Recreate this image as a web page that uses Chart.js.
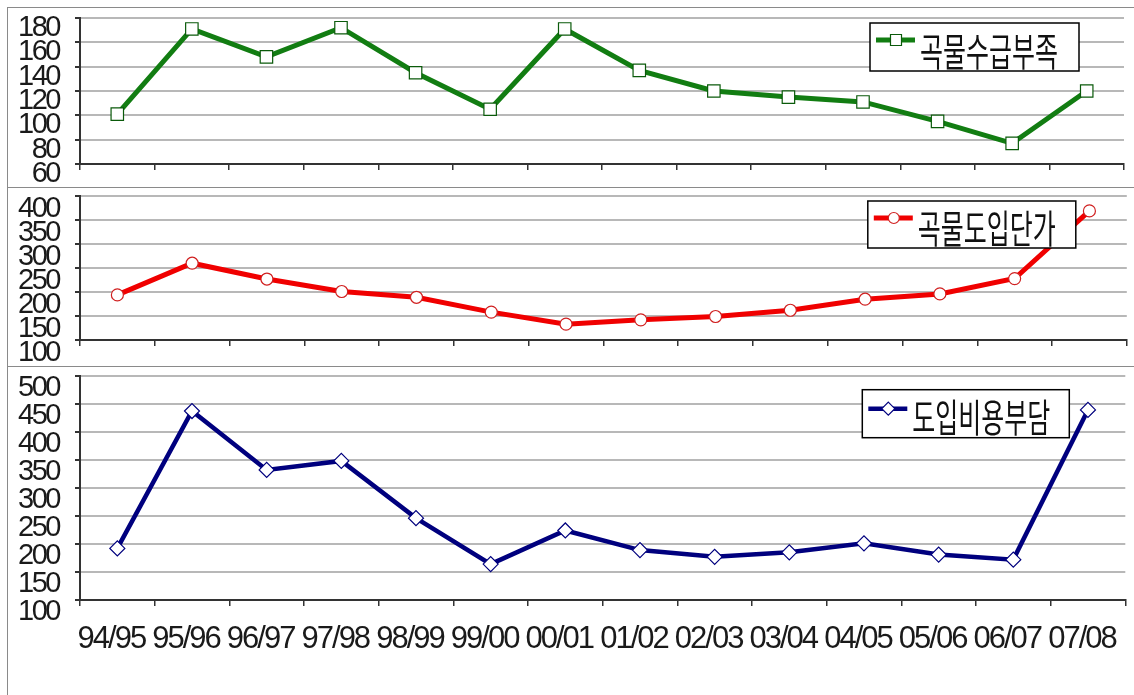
<!DOCTYPE html>
<html>
<head>
<meta charset="utf-8">
<script src="https://cdn.jsdelivr.net/npm/chart.js@4.4.1/dist/chart.umd.min.js"></script>
<style>
  html, body { margin:0; padding:0; background:#fff; width:1134px; height:695px; overflow:hidden; position:relative; }
  canvas { position:absolute; left:0; }
  .hl { position:absolute; left:7px; width:1127px; height:1px; background:#8a8a8a; z-index:5; }
  .vl { position:absolute; left:7px; top:7px; width:1px; height:688px; background:#8a8a8a; z-index:5; }
</style>
</head>
<body>
<div class="hl" style="top:7px"></div>
<div class="hl" style="top:187px"></div>
<div class="hl" style="top:366px"></div>
<div class="vl"></div>
<canvas id="c1" width="1134" height="179" style="top:8px"></canvas>
<canvas id="c2" width="1134" height="178" style="top:188px"></canvas>
<canvas id="c3" width="1134" height="328" style="top:367px"></canvas>
<script>
// ---- data ----
const categories = ['94/95','95/96','96/97','97/98','98/99','99/00','00/01','01/02','02/03','03/04','04/05','05/06','06/07','07/08'];
const seriesNames = ['곡물수급부족', '곡물도입단가', '도입비용부담'];
const shortage = [101, 171, 148, 172, 135, 105, 171, 137, 120, 115, 111, 95, 77, 120];
const price    = [194, 260, 227, 201, 189, 158, 133, 142, 149, 162, 185, 196, 228, 369];
const cost     = [192, 437, 332, 348, 246, 164, 224, 189, 177, 185, 201, 181, 172, 439];
const ticks1 = [60, 80, 100, 120, 140, 160, 180];
const ticks2 = [100, 150, 200, 250, 300, 350, 400];
const ticks3 = [100, 150, 200, 250, 300, 350, 400, 450, 500];

const FONT = "'Liberation Sans', Arial, sans-serif";

// tighten tick label spacing to imitate the narrow tall digits of the original
const tightLabels = {
  id: 'tightLabels',
  beforeDraw(chart) {
    const spec = { x: '-2px', y: '-2.5px' };
    Object.keys(spec).forEach(k => {
      const s = chart.scales[k];
      if (s && !s._tightPatched) {
        const orig = s.drawLabels.bind(s);
        s.drawLabels = function (ca) {
          const c = this.ctx;
          const prev = c.letterSpacing;
          c.letterSpacing = spec[k];
          orig(ca);
          c.letterSpacing = prev || '0px';
        };
        s._tightPatched = true;
      }
    });
  }
};

const boxLegend = {
  id: 'boxLegend',
  afterDatasetsDraw(chart, args, o) {
    const ds = chart.data.datasets[0];
    const ctx = chart.ctx, a = chart.chartArea;
    const w = o.width, h = o.height;
    const x = a.right - o.right - w, y = a.top + o.top;
    ctx.save();
    ctx.letterSpacing = '0px';
    ctx.fillStyle = '#fff';
    ctx.fillRect(x, y, w, h);
    ctx.strokeStyle = '#000';
    ctx.lineWidth = 1.5;
    ctx.strokeRect(x, y, w, h);
    const sy = y + o.sampleY;
    ctx.strokeStyle = ds.borderColor;
    ctx.lineWidth = ds.borderWidth;
    ctx.beginPath(); ctx.moveTo(x + 6, sy); ctx.lineTo(x + 45, sy); ctx.stroke();
    const cx = x + 26;
    ctx.fillStyle = '#fff';
    ctx.strokeStyle = ds.pointBorderColor;
    ctx.lineWidth = 1.2;
    ctx.beginPath();
    if (ds.pointStyle === 'rect') { ctx.rect(cx - 5.5, sy - 5.5, 11, 11); }
    else if (ds.pointStyle === 'circle') { ctx.arc(cx, sy, 5.5, 0, Math.PI * 2); }
    else { ctx.moveTo(cx, sy - 6.5); ctx.lineTo(cx + 6.5, sy); ctx.lineTo(cx, sy + 6.5); ctx.lineTo(cx - 6.5, sy); ctx.closePath(); }
    ctx.fill(); ctx.stroke();
    ctx.fillStyle = '#111';
    ctx.font = "25px 'Noto Sans CJK KR', sans-serif";
    ctx.textBaseline = 'middle';
    ctx.textAlign = 'left';
    ctx.translate(x + 50, y + h / 2 + 4);
    ctx.scale(1, 1.55);
    ctx.fillText(ds.label, 0, 0);
    ctx.restore();
  }
};

function makeChart(id, label, data, color, ptBorder, pointStyle, radius, lineW, yMin, yMax, tickArr, padTop, xHeight, showX, labelOff, legendOpts) {
  return new Chart(document.getElementById(id), {
    type: 'line',
    data: {
      labels: categories,
      datasets: [{
        label: label,
        data: data,
        borderColor: color,
        borderWidth: lineW,
        pointStyle: pointStyle,
        pointRadius: radius,
        pointBackgroundColor: '#ffffff',
        pointBorderColor: ptBorder,
        pointBorderWidth: 1.2,
        tension: 0,
        fill: false
      }]
    },
    options: {
      responsive: false,
      animation: false,
      devicePixelRatio: 1,
      layout: { padding: { top: padTop, right: 4, left: 0, bottom: 0 } },
      plugins: {
        legend: { display: false },
        tooltip: { enabled: false },
        boxLegend: legendOpts
      },
      scales: {
        x: {
          type: 'category',
          offset: true,
          grid: { offset: true, drawOnChartArea: false, color: '#333', tickColor: '#333', tickLength: 6, lineWidth: 1.5 },
          border: { color: '#333', width: 2 },
          ticks: {
            display: showX,
            autoSkip: false,
            maxRotation: 0,
            minRotation: 0,
            color: '#1a1a1a',
            font: { family: FONT, size: 31 },
            padding: 15,
            labelOffset: -6
          },
          afterFit: s => { s.height = xHeight; s.paddingLeft = 0; s.paddingRight = 0; }
        },
        y: {
          min: yMin,
          max: yMax,
          afterBuildTicks: s => { s.ticks = tickArr.map(v => ({ value: v })); },
          grid: { color: '#b8b8b8', lineWidth: 2, tickColor: '#333', tickLength: 5, drawTicks: true },
          border: { color: '#333', width: 2 },
          ticks: {
            autoSkip: false,
            color: '#1a1a1a',
            font: { family: FONT, size: 29 },
            padding: 16,
            labelOffset: labelOff
          },
          afterFit: s => { s.width = 80; s.paddingTop = 0; s.paddingBottom = 0; }
        }
      }
    },
    plugins: [tightLabels, boxLegend]
  });
}

makeChart('c1', seriesNames[0], shortage, '#127d12', '#0a5a0a', 'rect', 8.8, 5, 60, 180, ticks1, 9, 23, false, 10,
  { width: 209, height: 48, right: 45, top: 5, sampleY: 17 });
makeChart('c2', seriesNames[1], price, '#f00000', '#d02020', 'circle', 6, 5, 100, 400, ticks2, 8, 26, false, 13,
  { width: 208, height: 47, right: 51, top: 5, sampleY: 17 });
makeChart('c3', seriesNames[2], cost, '#00007e', '#00007e', 'rectRot', 7.5, 4.5, 100, 500, ticks3, 8, 95, true, 12,
  { width: 207, height: 48, right: 56, top: 14, sampleY: 19 });
</script>
</body>
</html>
